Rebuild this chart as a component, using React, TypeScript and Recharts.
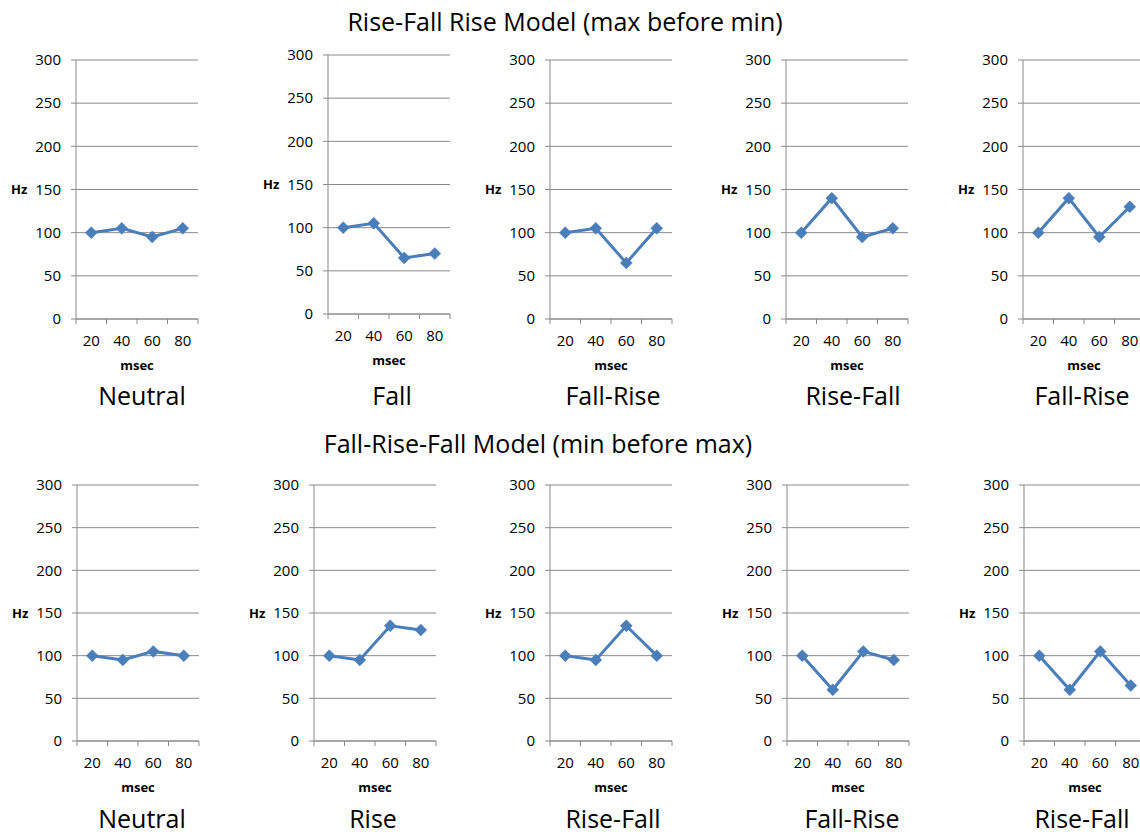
import React from 'react'
import { LineChart, Line, XAxis, YAxis, CartesianGrid } from 'recharts'

// x categories (msec) and y ticks (Hz)
const msec = ['20', '40', '60', '80']
const hzTicks = [0, 50, 100, 150, 200, 250, 300]

const topTitle = 'Rise-Fall Rise Model (max before min)'
const bottomTitle = 'Fall-Rise-Fall Model (min before max)'

const topNames = ['Neutral', 'Fall', 'Fall-Rise', 'Rise-Fall', 'Fall-Rise']
const bottomNames = ['Neutral', 'Rise', 'Rise-Fall', 'Fall-Rise', 'Rise-Fall']

// Rise-Fall Rise model
const topNeutral = [100, 105, 95, 105]
const topFall = [100, 105, 65, 70]
const topFallRise = [100, 105, 65, 105]
const topRiseFall = [100, 140, 95, 105]
const topFallRise2 = [100, 140, 95, 130]

// Fall-Rise-Fall model
const bottomNeutral = [100, 95, 105, 100]
const bottomRise = [100, 95, 135, 130]
const bottomRiseFall = [100, 95, 135, 100]
const bottomFallRise = [100, 60, 105, 95]
const bottomRiseFall2 = [100, 60, 105, 65]

const topSeries = [topNeutral, topFall, topFallRise, topRiseFall, topFallRise2]
const bottomSeries = [bottomNeutral, bottomRise, bottomRiseFall, bottomFallRise, bottomRiseFall2]

// layout: y-axis x position, plot top, title centre
const topLayout = [
  { axisX: 76, plotTop: 60, titleX: 142 },
  { axisX: 328, plotTop: 55, titleX: 392 },
  { axisX: 550, plotTop: 60, titleX: 613 },
  { axisX: 786, plotTop: 60, titleX: 853 },
  { axisX: 1023, plotTop: 60, titleX: 1082 },
]
const bottomLayout = [
  { axisX: 77, plotTop: 485, titleX: 142 },
  { axisX: 314, plotTop: 485, titleX: 373 },
  { axisX: 550, plotTop: 485, titleX: 613 },
  { axisX: 787, plotTop: 485, titleX: 852 },
  { axisX: 1024, plotTop: 485, titleX: 1082 },
]

const FONT = '"Open Sans", sans-serif'
const GRID = '#8a8a8a'
const BLUE = '#4a7ebb'
const AXIS_W = 70
const PLOT_W = 122
const X_TICK_SIZE = 6
const X_TICK_MARGIN = 10

function Diamond(props: any) {
  const { cx, cy } = props
  if (cx == null || cy == null) return null
  const r = 6
  return (
    <polygon
      points={`${cx},${cy - r} ${cx + r},${cy} ${cx},${cy + r} ${cx - r},${cy}`}
      fill={BLUE}
      stroke={BLUE}
      strokeWidth={0.5}
    />
  )
}

// category label plus Excel-style tick marks on the band boundaries
function MsecTick(props: any) {
  const { x, y, payload, index, visibleTicksCount } = props
  const half = payload?.offset ?? 0
  const y0 = y - X_TICK_SIZE - X_TICK_MARGIN
  return (
    <g>
      <line x1={x - half} x2={x - half} y1={y0} y2={y0 + 5} stroke={GRID} />
      {index === visibleTicksCount - 1 && (
        <line x1={x + half} x2={x + half} y1={y0} y2={y0 + 5} stroke={GRID} />
      )}
      <text x={x} y={y} dy="0.71em" textAnchor="middle" fontSize={15} fill="#000" fontFamily={FONT}>
        {payload.value}
      </text>
    </g>
  )
}

interface PanelProps {
  values: number[]
  axisX: number
  plotTop: number
  plotH: number
  name: string
  titleX: number
  titleY: number
}

function Panel({ values, axisX, plotTop, plotH, name, titleX, titleY }: PanelProps) {
  const data = msec.map((m, i) => ({ ms: m, hz: values[i] }))
  return (
    <>
      <div style={{ position: 'absolute', left: axisX - AXIS_W, top: plotTop - 10 }}>
        <LineChart
          width={AXIS_W + PLOT_W + 6}
          height={10 + plotH + 55}
          data={data}
          margin={{ top: 10, right: 6, bottom: 0, left: 0 }}
          style={{ fontFamily: FONT }}
        >
          <CartesianGrid vertical={false} stroke={GRID} />
          <XAxis
            dataKey="ms"
            scale="band"
            height={55}
            tickLine={false}
            tickSize={X_TICK_SIZE}
            tickMargin={X_TICK_MARGIN}
            axisLine={{ stroke: GRID }}
            interval={0}
            tick={<MsecTick />}
            label={{
              value: 'msec',
              position: 'insideBottom',
              offset: 4,
              style: { fontSize: 13, fontWeight: 700, fill: '#000', fontFamily: FONT },
            }}
          />
          <YAxis
            width={AXIS_W}
            domain={[0, 300]}
            ticks={hzTicks}
            interval={0}
            tickSize={5}
            tickMargin={10}
            tickLine={{ stroke: GRID }}
            axisLine={{ stroke: GRID }}
            tick={{ fontSize: 15, fill: '#000', fontFamily: FONT }}
            label={{
              value: 'Hz',
              position: 'insideLeft',
              offset: 5,
              style: { fontSize: 13, fontWeight: 700, fill: '#000', fontFamily: FONT },
            }}
          />
          <Line
            type="linear"
            dataKey="hz"
            stroke={BLUE}
            strokeWidth={3}
            dot={<Diamond />}
            activeDot={false}
            isAnimationActive={false}
          />
        </LineChart>
      </div>
      <div
        style={{
          position: 'absolute',
          left: titleX,
          top: titleY,
          transform: 'translateX(-50%)',
          fontFamily: FONT,
          fontSize: 25,
          lineHeight: 1,
          whiteSpace: 'nowrap',
          color: '#000',
        }}
      >
        {name}
      </div>
    </>
  )
}

function Heading({ text, x, y }: { text: string; x: number; y: number }) {
  return (
    <div
      style={{
        position: 'absolute',
        left: x,
        top: y,
        transform: 'translateX(-50%)',
        fontFamily: FONT,
        fontSize: 25,
        lineHeight: 1,
        whiteSpace: 'nowrap',
        color: '#000',
      }}
    >
      {text}
    </div>
  )
}

export default function App() {
  return (
    <div
      style={{
        position: 'absolute',
        left: 0,
        top: 0,
        width: 1140,
        height: 836,
        overflow: 'hidden',
        background: '#fff',
      }}
    >
      <Heading text={topTitle} x={565} y={9} />
      {topSeries.map((vals, i) => (
        <Panel
          key={'t' + i}
          values={vals}
          axisX={topLayout[i].axisX}
          plotTop={topLayout[i].plotTop}
          plotH={259}
          name={topNames[i]}
          titleX={topLayout[i].titleX}
          titleY={383}
        />
      ))}
      <Heading text={bottomTitle} x={538} y={431} />
      {bottomSeries.map((vals, i) => (
        <Panel
          key={'b' + i}
          values={vals}
          axisX={bottomLayout[i].axisX}
          plotTop={bottomLayout[i].plotTop}
          plotH={256}
          name={bottomNames[i]}
          titleX={bottomLayout[i].titleX}
          titleY={806}
        />
      ))}
    </div>
  )
}
